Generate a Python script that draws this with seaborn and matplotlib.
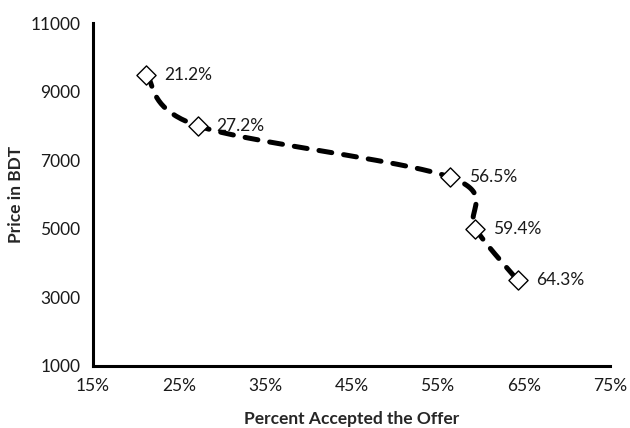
import numpy as np
import pandas as pd
import matplotlib
matplotlib.use("Agg")
import matplotlib.pyplot as plt
import seaborn as sns

# Acceptance rate (%) at each offered price (BDT)
accepted_pct = [21.2, 27.2, 56.5, 59.4, 64.3]
price_bdt = [9500, 8000, 6500, 5000, 3500]
point_labels = ["21.2%", "27.2%", "56.5%", "59.4%", "64.3%"]
x_ticks = [15, 25, 35, 45, 55, 65, 75]
y_ticks = [1000, 3000, 5000, 7000, 9000, 11000]

sns.set_style("white")
plt.rcParams["font.family"] = ["Lato", "DejaVu Sans"]

fig = plt.figure(figsize=(6.3, 4.28), dpi=100)
ax = fig.add_axes([0.1476, 0.145, 0.8204, 0.801])

xlim = (15, 75)
ylim = (1000, 11000)
ax_w_px, ax_h_px = 517.0, 343.0


def smooth_curve(xs, ys, n=40):
    """Bezier smoothing through the points (Catmull-Rom style, 1/6 tension),
    computed in display-proportional space so the curve looks even."""
    sx = ax_w_px / (xlim[1] - xlim[0])
    sy = ax_h_px / (ylim[1] - ylim[0])
    P = np.column_stack([np.asarray(xs) * sx, np.asarray(ys) * sy])
    m = len(P)
    out = []
    for i in range(m - 1):
        p0 = P[i - 1] if i > 0 else P[i]
        p1, p2 = P[i], P[i + 1]
        p3 = P[i + 2] if i + 2 < m else P[i + 1]
        c1 = p1 + (p2 - p0) / 6.0
        c2 = p2 - (p3 - p1) / 6.0
        t = np.linspace(0, 1, n)[:, None]
        seg = ((1 - t) ** 3) * p1 + 3 * ((1 - t) ** 2) * t * c1 + 3 * (1 - t) * t ** 2 * c2 + t ** 3 * p2
        if i > 0:
            seg = seg[1:]
        out.append(seg)
    out = np.vstack(out)
    return out[:, 0] / sx, out[:, 1] / sy


cx, cy = smooth_curve(accepted_pct, price_bdt)
curve = pd.DataFrame({"x": cx, "y": cy})
points = pd.DataFrame({"x": accepted_pct, "y": price_bdt})

sns.lineplot(data=curve, x="x", y="y", sort=False, ax=ax, color="black",
             linewidth=3.6, zorder=3, estimator=None)
line = ax.get_lines()[-1]
line.set_dashes((2.6, 2.4))
line.set_dash_capstyle("round")

sns.scatterplot(data=points, x="x", y="y", ax=ax, marker="D", s=95,
                facecolor="white", edgecolor="black", linewidth=1.0, zorder=4)

for xv, yv, lab in zip(accepted_pct, price_bdt, point_labels):
    ax.annotate(lab, (xv, yv), xytext=(13, 0), textcoords="offset points",
                ha="left", va="center", fontsize=12.5, color="#1a1a1a", zorder=2)

ax.set_xlim(*xlim)
ax.set_ylim(*ylim)
ax.set_xticks(x_ticks)
ax.set_xticklabels([f"{v}%" for v in x_ticks])
ax.set_yticks(y_ticks)
ax.set_yticklabels([str(v) for v in y_ticks])
ax.tick_params(axis="both", length=0, labelsize=12.5, colors="#1a1a1a")
ax.tick_params(axis="y", pad=9)
ax.tick_params(axis="x", pad=9)

for side in ["top", "right"]:
    ax.spines[side].set_visible(False)
for side in ["left", "bottom"]:
    ax.spines[side].set_color("black")
    ax.spines[side].set_linewidth(2.2)

ax.set_xlabel("Percent Accepted the Offer", fontsize=12.5, fontweight="bold", labelpad=12)
ax.set_ylabel("Price in BDT", fontsize=12.5, fontweight="bold", labelpad=5)

fig.savefig("out.png", dpi=100)
